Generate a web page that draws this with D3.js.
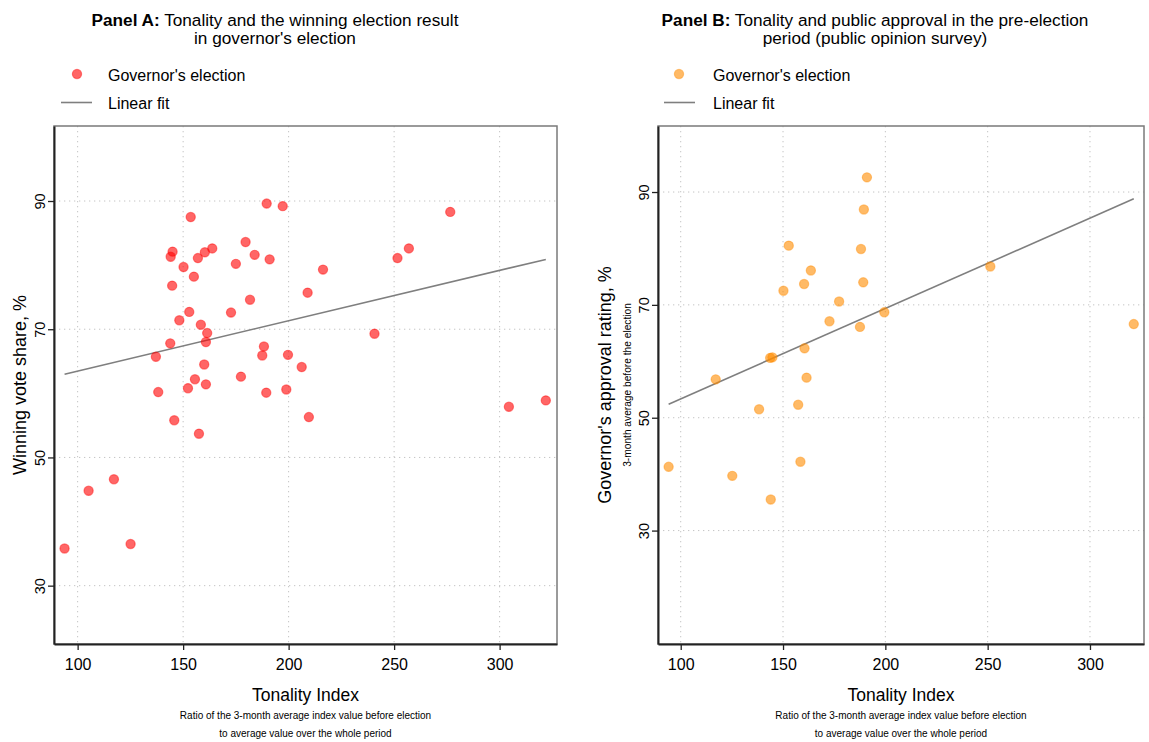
<!DOCTYPE html>
<html><head><meta charset="utf-8">
<script src="https://cdn.jsdelivr.net/npm/d3@7"></script>
<style>
body{margin:0;background:#fff;}
text{font-family:"Liberation Sans",Arial,sans-serif;fill:#000;}
.narrow{font-family:"Liberation Sans Narrow","Liberation Sans",Arial,sans-serif;}
</style></head>
<body><svg id="c" width="1149" height="742"></svg>
<script>
// Panel A: governor's election, tonality index vs winning vote share
const tonalityA = [189.6,197.2,153.6,145.0,144.1,160.3,163.8,157.0,150.2,155.1,179.6,183.9,191.0,175.0,216.3,144.8,209.0,181.7,152.9,172.7,148.2,158.4,161.4,143.9,160.8,188.3,187.5,199.7,137.1,206.2,160.0,155.6,177.4,152.3,160.8,138.2,189.4,198.9,145.8,209.6,157.5,117.2,105.2,93.8,125.1,276.6,257.0,251.6,240.7,304.4,321.9];
const voteShareA = [89.6,89.2,87.5,82.1,81.3,82.0,82.6,81.1,79.7,78.2,83.6,81.6,80.9,80.2,79.3,76.8,75.7,74.6,72.7,72.6,71.4,70.7,69.4,67.8,68.0,67.3,65.9,66.0,65.7,64.1,64.5,62.2,62.6,60.8,61.4,60.2,60.1,60.6,55.8,56.3,53.7,46.6,44.8,35.8,36.5,88.3,82.6,81.1,69.3,57.9,58.9];
// Panel B: tonality index vs pre-election approval rating
const tonalityB = [191.0,189.5,152.8,188.1,163.6,160.3,189.2,150.2,177.4,199.5,172.7,187.6,160.5,143.7,144.8,117.1,161.5,138.3,157.4,94.1,125.2,158.5,144.0,251.3,321.4];
const approvalB = [92.6,86.9,80.5,79.9,76.1,73.7,74.0,72.5,70.6,68.7,67.1,66.1,62.3,60.6,60.7,56.8,57.1,51.5,52.3,41.3,39.7,42.2,35.5,76.8,66.6];
const xTicks = [100,150,200,250,300];
const yTicks = [30,50,70,90];

const svg = d3.select("#c");

function ols(xs, ys){
  const n = xs.length, mx = d3.mean(xs), my = d3.mean(ys);
  let sxy=0, sxx=0;
  for(let i=0;i<n;i++){ sxy+=(xs[i]-mx)*(ys[i]-my); sxx+=(xs[i]-mx)**2; }
  const b = sxy/sxx; return {a: my-b*mx, b};
}

function panel(o){
  const x = d3.scaleLinear().domain(o.xd).range([o.l, o.r]);
  const y = d3.scaleLinear().domain(o.yd).range([o.b, o.t]);
  const g = svg.append("g");
  // grid
  g.selectAll(".gx").data(xTicks).join("line")
    .attr("x1", d=>x(d)).attr("x2", d=>x(d)).attr("y1", o.t).attr("y2", o.b)
    .attr("stroke","#c4c4c4").attr("stroke-width",1).attr("stroke-dasharray","1.3,3.7");
  g.selectAll(".gy").data(yTicks).join("line")
    .attr("y1", d=>y(d)).attr("y2", d=>y(d)).attr("x1", o.l).attr("x2", o.r)
    .attr("stroke","#c4c4c4").attr("stroke-width",1).attr("stroke-dasharray","1.3,3.7");
  // frame
  g.append("rect").attr("x",o.l).attr("y",o.t).attr("width",o.r-o.l).attr("height",o.b-o.t)
    .attr("fill","none").attr("stroke","#7a7a7a").attr("stroke-width",1.5);
  // axes
  const xa = g.append("g").attr("transform",`translate(0,${o.b})`)
    .call(d3.axisBottom(x).tickValues(xTicks).tickSizeInner(6).tickSizeOuter(0).tickPadding(9).tickFormat(d3.format("d")));
  xa.select(".domain").attr("stroke","#222").attr("stroke-width",2);
  xa.selectAll(".tick line").attr("stroke","#222").attr("stroke-width",1.3);
  xa.selectAll("text").attr("font-size",16).attr("fill","#000").style("font-family","Liberation Sans, Arial, sans-serif");
  const ya = g.append("g").attr("transform",`translate(${o.l},0)`)
    .call(d3.axisLeft(y).tickValues(yTicks).tickSizeInner(6).tickSizeOuter(0).tickPadding(0).tickFormat(d3.format("d")));
  ya.select(".domain").attr("stroke","#222").attr("stroke-width",2);
  ya.selectAll(".tick line").attr("stroke","#222").attr("stroke-width",1.3);
  ya.selectAll(".tick text").attr("font-size",14.5).attr("fill","#000")
    .style("font-family","Liberation Sans, Arial, sans-serif")
    .attr("text-anchor","middle").attr("dy",0).attr("x",0).attr("y",0)
    .attr("transform","translate(-9.5,0) rotate(-90)");
  // fit line
  const f = ols(o.xs, o.ys);
  const ex = d3.extent(o.xs);
  g.append("line").attr("x1",x(ex[0])).attr("y1",y(f.a+f.b*ex[0]))
    .attr("x2",x(ex[1])).attr("y2",y(f.a+f.b*ex[1]))
    .attr("stroke","#7f7f7f").attr("stroke-width",1.6);
  // points
  g.selectAll("circle.pt").data(o.xs.map((v,i)=>[v,o.ys[i]])).join("circle")
    .attr("cx",d=>x(d[0])).attr("cy",d=>y(d[1])).attr("r",4.6)
    .attr("fill",o.fill).attr("fill-opacity",0.6)
    .attr("stroke",o.stroke).attr("stroke-opacity",0.45).attr("stroke-width",1.2);
  // titles
  const tt = svg.append("text").attr("x",o.tc).attr("y",26).attr("text-anchor","middle").attr("font-size",17.2);
  tt.append("tspan").attr("font-weight","bold").text(o.title1b);
  tt.append("tspan").text(o.title1);
  svg.append("text").attr("x",o.tc).attr("y",44).attr("text-anchor","middle").attr("font-size",17.2).text(o.title2);
  // legend
  svg.append("circle").attr("cx",o.lg).attr("cy",74).attr("r",4.6)
    .attr("fill",o.fill).attr("fill-opacity",0.6).attr("stroke",o.stroke).attr("stroke-opacity",0.45).attr("stroke-width",1.2);
  svg.append("text").attr("x",o.lt).attr("y",80.5).attr("font-size",16).text("Governor's election");
  svg.append("line").attr("x1",o.ll).attr("x2",o.ll+31).attr("y1",102.5).attr("y2",102.5)
    .attr("stroke","#7f7f7f").attr("stroke-width",1.6);
  svg.append("text").attr("x",o.lt).attr("y",109).attr("font-size",16).text("Linear fit");
  // x title
  const xc = (o.l+o.r)/2;
  svg.append("text").attr("x",xc).attr("y",700.5).attr("text-anchor","middle").attr("font-size",17.5).text("Tonality Index");
  svg.append("text").attr("class","narrow").attr("x",xc).attr("y",719).attr("text-anchor","middle").attr("font-size",10)
    .text("Ratio of the 3-month average index value before election");
  svg.append("text").attr("class","narrow").attr("x",xc).attr("y",737).attr("text-anchor","middle").attr("font-size",10)
    .text("to average value over the whole period");
  // y title
  const yc = (o.t+o.b)/2;
  svg.append("text").attr("transform",`translate(${o.yt},${yc}) rotate(-90)`).attr("text-anchor","middle").attr("font-size",18).text(o.ytitle);
  if(o.ysub){
    svg.append("text").attr("class","narrow").attr("transform",`translate(${o.ys2},${yc}) rotate(-90)`).attr("text-anchor","middle").attr("font-size",10.2).text(o.ysub);
  }
}

panel({l:54,r:557,t:126,b:644,xd:[88.8,327.2],yd:[20.9,101.7],xs:tonalityA,ys:voteShareA,
  fill:"#ff0000",stroke:"#ff0000",tc:275,title1b:"Panel A:",title1:" Tonality and the winning election result",
  title2:"in governor's election",lg:77,lt:108,ll:61,yt:26,ytitle:"Winning vote share, %"});
panel({l:658,r:1144,t:126,b:644,xd:[88.9,326.4],yd:[9.9,101.7],xs:tonalityB,ys:approvalB,
  fill:"#ff8c00",stroke:"#ff8c00",tc:875,title1b:"Panel B:",title1:" Tonality and public approval in the pre-election",
  title2:"period (public opinion survey)",lg:679,lt:713,ll:664,yt:611,ytitle:"Governor's approval rating, %",
  ysub:"3-month average before the election",ys2:631});
</script></body></html>
